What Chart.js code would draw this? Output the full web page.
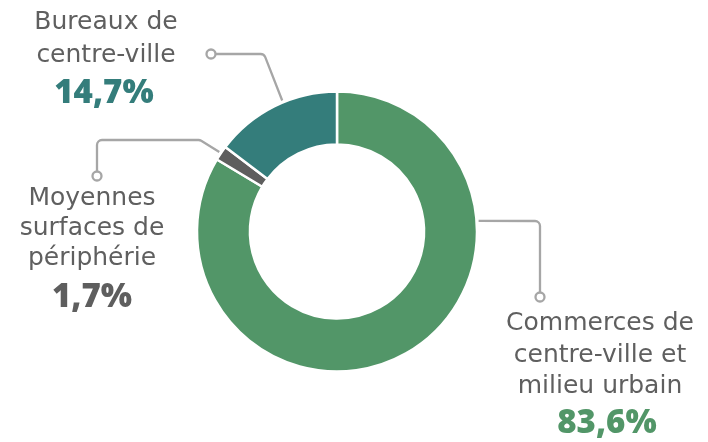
<!DOCTYPE html>
<html><head><meta charset="utf-8">
<script src="https://cdn.jsdelivr.net/npm/chart.js@4.4.1/dist/chart.umd.min.js"></script>
<style>html,body{margin:0;padding:0;background:#fff}#wrap{width:708px;height:442px}</style>
</head><body><div id="wrap"><canvas id="c" width="708" height="442"></canvas></div>
<script>
const categories = ["Commerces de centre-ville et milieu urbain", "Moyennes surfaces de périphérie", "Bureaux de centre-ville"];
const labelLines = [["Commerces de", "centre-ville et", "milieu urbain"], ["Moyennes", "surfaces de", "périphérie"], ["Bureaux de", "centre-ville"]];
const shares = [83.6, 1.7, 14.7];
const shareLabels = ["83,6%", "1,7%", "14,7%"];
const colors = ["#529668", "#5e5e5e", "#347d7b"];

const TEXT = "#5f5f5f", LINE = "#a6a6a6";
const LABEL_FONT = "400 25px 'DejaVu Sans', sans-serif";
const PCT_FONT = "800 33px 'Open Sans', sans-serif";
// layout for callouts: anchor angle (deg clockwise from top), path points, label position
const callouts = [
  {angle: 85.7, path: [[540,221],[540,297]], cx: 600, base: [330,362,393], pctX: 607, pctBase: 433},
  {angle: null, path: [[200,140],[97,140],[97,176]], cx: 92, base: [205,235,265], pctX: 92, pctBase: 307},
  {angle: 337.3, path: [[264,54],[211,54]], cx: 106, base: [29,62], pctX: 104, pctBase: 103}
];

const calloutPlugin = {
  id: 'callouts',
  afterDraw(chart) {
    const ctx = chart.ctx;
    const meta = chart.getDatasetMeta(0);
    meta.data.forEach((arc, i) => {
      const c = callouts[i];
      const p = arc.getProps(['x','y','startAngle','endAngle','outerRadius'], true);
      const a = c.angle === null ? (p.startAngle + p.endAngle) / 2 : (c.angle - 90) * Math.PI / 180;
      const r = p.outerRadius + 2;
      const sx = p.x + Math.cos(a) * r, sy = p.y + Math.sin(a) * r;
      ctx.save();
      ctx.strokeStyle = LINE; ctx.lineWidth = 2.3; ctx.lineJoin = 'round';
      ctx.beginPath(); ctx.moveTo(sx, sy);
      const pts = c.path;
      for (let k = 0; k < pts.length - 1; k++) {
        ctx.arcTo(pts[k][0], pts[k][1], pts[k+1][0], pts[k+1][1], 5);
      }
      const last = pts[pts.length - 1], prev = pts.length > 1 ? pts[pts.length - 2] : [sx, sy];
      const dx = last[0] - prev[0], dy = last[1] - prev[1], len = Math.hypot(dx, dy);
      ctx.lineTo(last[0] - dx / len * 4.5, last[1] - dy / len * 4.5);
      ctx.stroke();
      ctx.beginPath(); ctx.arc(last[0], last[1], 4.5, 0, Math.PI * 2);
      ctx.fillStyle = '#fff'; ctx.fill(); ctx.stroke();
      ctx.textAlign = 'center'; ctx.textBaseline = 'alphabetic';
      ctx.fillStyle = TEXT; ctx.font = LABEL_FONT;
      labelLines[i].forEach((t, j) => ctx.fillText(t, c.cx, c.base[j]));
      ctx.fillStyle = colors[i]; ctx.font = PCT_FONT;
      ctx.fillText(shareLabels[i], c.pctX, c.pctBase);
      ctx.restore();
    });
  }
};

new Chart(document.getElementById('c'), {
  type: 'doughnut',
  data: { labels: categories, datasets: [{ data: shares, backgroundColor: colors, borderColor: '#ffffff', borderWidth: 2.5, hoverOffset: 0 }] },
  options: {
    responsive: false, animation: false, devicePixelRatio: 1,
    radius: 140, cutout: 86,
    layout: { padding: { left: 197, right: 231, top: 92, bottom: 71 } },
    plugins: { legend: { display: false }, tooltip: { enabled: false } }
  },
  plugins: [calloutPlugin]
});
</script></body></html>
